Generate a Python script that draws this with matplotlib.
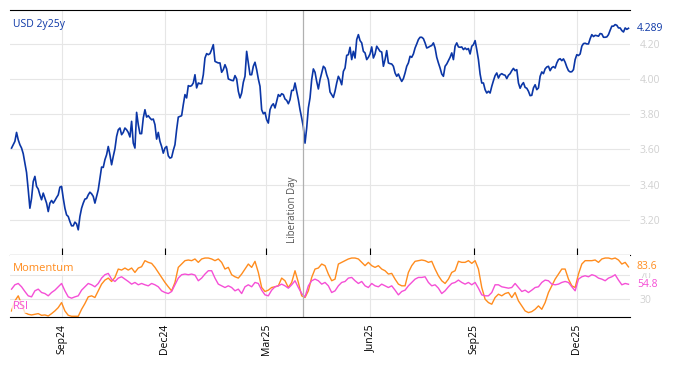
import numpy as np
import pandas as pd
import matplotlib
matplotlib.use("Agg")
import matplotlib.pyplot as plt
import matplotlib.dates as mdates

plt.rcParams['font.family'] = ['Open Sans', 'DejaVu Sans']

# USD 2y25y curve (approx. every 1.5 trading days)
usd = [
    3.608, 3.627, 3.646, 3.697, 3.655, 3.627, 3.608, 3.576, 3.523, 3.469,
    3.371, 3.266, 3.323, 3.418, 3.447, 3.390, 3.375, 3.342, 3.314, 3.352,
    3.323, 3.295, 3.247, 3.295, 3.310, 3.295, 3.310, 3.327, 3.342, 3.386,
    3.390, 3.323, 3.266, 3.228, 3.219, 3.190, 3.166, 3.166, 3.187, 3.177,
    3.143, 3.219, 3.266, 3.295, 3.318, 3.321, 3.342, 3.357, 3.348, 3.333,
    3.295, 3.333, 3.371, 3.437, 3.500, 3.498, 3.542, 3.570, 3.617, 3.570,
    3.513, 3.561, 3.604, 3.674, 3.712, 3.722, 3.684, 3.697, 3.722, 3.712,
    3.697, 3.671, 3.760, 3.636, 3.608, 3.811, 3.741, 3.690, 3.690, 3.779,
    3.826, 3.784, 3.792, 3.779, 3.769, 3.773, 3.741, 3.659, 3.697, 3.646,
    3.617, 3.579,
    3.608, 3.617, 3.564, 3.551, 3.555, 3.595, 3.627, 3.712, 3.784, 3.788,
    3.792, 3.855, 3.912, 3.893, 3.963, 3.959, 3.963, 3.978, 4.025, 3.950,
    3.978, 3.974, 3.974, 4.025, 4.120, 4.145, 4.139, 4.145, 4.168, 4.196,
    4.101, 4.096, 4.092, 4.092, 4.039, 4.054, 4.082, 4.058, 4.001, 3.997,
    3.993, 3.991, 4.020, 4.001, 3.931, 3.893, 3.921, 3.982, 4.016, 4.158,
    4.092, 4.025, 4.025, 4.073, 4.096, 4.054, 4.001, 3.959, 3.826, 3.803,
    3.811, 3.769, 3.750, 3.826, 3.849, 3.860, 3.836, 3.874, 3.912, 3.902,
    3.917, 3.912, 3.887, 3.879, 3.860, 3.883, 3.936, 3.936, 3.978, 3.931,
    3.883, 3.826, 3.779, 3.728, 3.636, 3.722, 3.836, 3.893, 3.997, 4.058,
    4.039, 3.987, 3.944,
    3.997, 4.035, 4.073, 4.063, 4.025, 3.997, 3.927, 3.912, 3.896, 3.931,
    3.978, 4.016, 3.997, 3.968, 4.044, 4.063, 4.135, 4.139, 4.181, 4.111,
    4.158, 4.120, 4.225, 4.253, 4.219, 4.206, 4.158, 4.149, 4.111, 4.124,
    4.143, 4.183, 4.120, 4.143, 4.187, 4.172, 4.158, 4.154, 4.073, 4.111,
    4.162, 4.092, 4.088, 4.086, 4.073, 4.035, 4.016, 4.029, 4.006, 3.987,
    4.003, 4.035, 4.073, 4.092, 4.130, 4.124, 4.143, 4.177, 4.200, 4.225,
    4.238, 4.238, 4.230, 4.206, 4.177, 4.181, 4.187, 4.191, 4.206, 4.177,
    4.124, 4.092, 4.063, 4.029, 4.016, 4.073, 4.086, 4.105, 4.124, 4.149,
    4.111, 4.187, 4.206, 4.183, 4.181, 4.183, 4.168, 4.177, 4.168, 4.174,
    4.143, 4.187, 4.196,
    4.219, 4.168, 4.111, 4.029, 3.978, 3.978, 3.940, 3.921, 3.931, 3.921,
    3.959, 3.991, 4.020, 4.035, 4.006, 4.025, 4.031, 4.025, 4.022, 4.003,
    4.022, 4.031, 4.048, 4.061, 4.048, 4.054, 3.978, 3.948, 3.968, 3.980,
    3.953, 3.948, 3.931, 3.906, 3.908, 3.950, 3.968, 3.940, 3.950, 4.016,
    4.041, 4.031, 4.058, 4.069, 4.073, 4.048, 4.065, 4.071, 4.063, 4.092,
    4.111, 4.116, 4.105, 4.115, 4.096, 4.069, 4.048, 4.041, 4.042, 4.054,
    4.111, 4.139, 4.134, 4.143, 4.187, 4.202, 4.204, 4.200, 4.200, 4.230,
    4.253, 4.242, 4.249, 4.247, 4.244, 4.259, 4.257, 4.238, 4.238, 4.240,
    4.253, 4.278, 4.301, 4.301, 4.310, 4.306, 4.291, 4.291, 4.276, 4.268,
    4.291, 4.283, 4.289,
]

rsi = [
    46.7, 53.9, 56.1, 50.6, 42.8, 35.6, 33.9, 43.9, 46.7, 41.1,
    39.4, 35.6, 41.1, 45.0, 50.6, 56.1, 43.9, 33.9, 31.7, 33.9,
    35.6, 45.0, 50.6, 56.1, 53.9, 50.6, 56.1, 65.0, 70.6, 72.8,
    63.3, 59.4, 65.0, 67.2, 63.3, 59.4, 55.0, 57.8, 53.9, 56.1,
    53.9, 52.2, 56.1, 53.9, 50.6, 43.9, 41.1, 39.4, 42.8, 53.9,
    65.0, 70.6, 71.7, 70.6, 71.7, 70.0, 60.6, 65.0, 71.7, 77.2,
    77.2, 65.0,
    55.0, 52.2, 49.4, 52.2, 49.4, 43.9, 46.7, 39.4, 50.6, 53.9,
    50.6, 57.8, 56.1, 45.0, 37.2, 35.6, 45.0, 50.6, 52.2, 55.0,
    52.2, 48.3, 53.9, 60.6, 49.4, 39.4, 33.9, 52.2, 60.6, 63.3,
    60.6, 55.0, 57.8, 52.2, 41.1, 43.9, 52.2, 57.8, 59.4, 65.0,
    66.1, 60.6, 56.1, 59.4, 52.2, 49.4, 56.1, 52.2, 50.6, 55.0,
    52.2, 49.4, 52.2, 45.0, 37.2, 42.8, 45.0, 52.2, 57.8, 63.3,
    66.1, 66.1,
    67.2, 57.8, 52.2, 53.9, 48.3, 39.4, 43.9, 50.6, 56.1, 57.8,
    61.7, 57.8, 55.0, 57.8, 53.9, 57.8, 48.3, 37.2, 35.6, 35.6,
    41.1, 53.9, 53.9, 50.6, 49.4, 48.3, 49.4, 56.1, 49.4, 42.8,
    45.0, 41.1, 45.0, 49.4, 50.6, 57.8, 61.7, 60.6, 55.0, 53.9,
    55.0, 57.8, 59.4, 57.8, 50.6, 43.9, 63.3, 67.2, 68.9, 67.2,
    70.6, 68.9, 65.0, 63.3, 60.6, 65.0, 67.2, 70.6, 61.7, 53.9,
    56.1, 54.8,
]

momentum = [
    10.6, 27.2, 35.6, 21.7, 7.8, 5.0, 3.9, 5.0, 6.1, 3.3,
    3.9, 2.2, 6.1, 10.6, 16.1, 24.4, 10.6, 3.3, 1.7, 1.7,
    1.7, 13.3, 22.8, 33.9, 35.6, 32.8, 43.9, 55.0, 61.7, 65.0,
    59.4, 66.1, 80.0, 78.3, 81.7, 78.3, 81.7, 74.4, 81.7, 83.9,
    93.9, 91.1, 89.4, 82.8, 74.4, 66.1, 57.8, 50.6, 43.9, 57.8,
    82.8, 88.3, 93.9, 95.0, 93.9, 96.7, 91.1, 96.7, 98.3, 98.3,
    96.7, 93.9,
    96.7, 91.1, 80.0, 82.8, 70.6, 67.2, 65.0, 71.7, 80.0, 88.3,
    82.8, 92.8, 74.4, 49.4, 42.8, 45.0, 49.4, 50.6, 52.2, 65.0,
    60.6, 49.4, 57.8, 77.2, 57.8, 35.6, 32.8, 43.9, 66.1, 80.0,
    81.7, 88.3, 85.6, 71.7, 60.6, 63.3, 88.3, 91.1, 93.9, 96.7,
    98.3, 98.3, 96.7, 91.1, 85.6, 91.1, 85.6, 82.8, 85.6, 80.0,
    77.2, 71.7, 72.8, 63.3, 55.0, 52.2, 52.2, 74.4, 85.6, 92.8,
    93.9, 95.0,
    93.9, 91.1, 92.8, 80.0, 68.9, 60.6, 56.1, 63.3, 74.4, 77.2,
    92.8, 91.1, 91.1, 93.9, 89.4, 93.9, 80.0, 49.4, 30.0, 24.4,
    21.7, 32.8, 38.3, 35.6, 39.4, 41.1, 32.8, 41.1, 27.2, 18.9,
    10.6, 7.8, 9.4, 13.3, 18.9, 13.3, 24.4, 41.1, 52.2, 63.3,
    71.7, 80.0, 80.0, 63.3, 52.2, 49.4, 71.7, 88.3, 93.9, 93.9,
    93.9, 95.0, 91.1, 96.7, 98.3, 98.3, 96.7, 98.3, 95.0, 88.3,
    91.1, 83.6,
]

start, end = "2024-07-18", "2026-01-16"
usd_dates = pd.date_range(start, end, periods=len(usd))
rsi_dates = pd.date_range(start, end, periods=len(rsi))
mom_dates = pd.date_range(start, end, periods=len(momentum))
lib_day = pd.Timestamp("2025-04-02")

blue = "#0b36a6"
orange = "#ff8c1e"
pink = "#f54fd6"
grid_c = "#e6e6e6"
tick_c = "#d0d0d0"

fig = plt.figure(figsize=(6.74, 3.66), dpi=100)
ax = fig.add_axes([10/674, 1-255/366, 620/674, 245/366])
ax2 = fig.add_axes([10/674, 1-317/366, 620/674, 62/366], sharex=ax)

ax.plot(usd_dates, usd, color=blue, lw=1.2)
ax2.plot(mom_dates, momentum, color=orange, lw=1.0)
ax2.plot(rsi_dates, rsi, color=pink, lw=1.0)

xmin = pd.Timestamp("2024-07-16 15:00")
xmax = pd.Timestamp("2026-01-17 08:00")
ax.set_xlim(xmin, xmax)
ax.set_ylim(3.0, 4.393)
ax2.set_ylim(0.5, 103.3)

for a in (ax, ax2):
    a.xaxis.set_major_locator(mdates.MonthLocator(bymonth=[3, 6, 9, 12]))
    a.xaxis.set_major_formatter(mdates.DateFormatter("%b%y"))
    a.grid(True, color=grid_c, lw=0.8)
    a.set_axisbelow(True)
    a.spines["left"].set_visible(False)
    a.spines["right"].set_visible(False)
    a.yaxis.tick_right()
    a.axvline(lib_day, color="#b0b0b0", lw=0.9)

ax.set_yticks([3.2, 3.4, 3.6, 3.8, 4.0, 4.2])
ax.yaxis.set_major_formatter(matplotlib.ticker.FormatStrFormatter("%.2f"))
ax.tick_params(axis="y", length=0, pad=7, labelsize=7.5, labelcolor=tick_c)
ax.tick_params(axis="x", direction="in", length=5, labelbottom=False)

ax2.set_yticks([30, 70])
ax2.tick_params(axis="y", length=0, pad=7, labelsize=7.5, labelcolor=tick_c)
ax2.tick_params(axis="x", length=0, pad=5, labelsize=7.5, labelrotation=90)
ax2.spines["top"].set_visible(False)

label_box = dict(facecolor="white", edgecolor="none", pad=0.5)
ytr = ax.get_yaxis_transform()
ax.text(1.011, usd[-1], f"{usd[-1]:.3f}", transform=ytr, color=blue,
        fontsize=7.5, va="center", ha="left", bbox=label_box)
ytr2 = ax2.get_yaxis_transform()
ax2.text(1.011, momentum[-1], f"{momentum[-1]:.1f}", transform=ytr2,
         color=orange, fontsize=7.5, va="center", ha="left", bbox=label_box)
ax2.text(1.011, rsi[-1], f"{rsi[-1]:.1f}", transform=ytr2,
         color=pink, fontsize=7.5, va="center", ha="left", bbox=label_box)

ax.text(0.005, 0.94, "USD 2y25y", transform=ax.transAxes, color=blue,
        fontsize=7.5, va="center", ha="left")
ax2.text(0.005, 0.78, "Momentum", transform=ax2.transAxes, color=orange,
         fontsize=8, va="center", ha="left",
         bbox=dict(facecolor="white", edgecolor="none", alpha=0.75, pad=1))
ax2.text(0.005, 0.17, "RSI", transform=ax2.transAxes, color=pink,
         fontsize=8, va="center", ha="left",
         bbox=dict(facecolor="white", edgecolor="none", alpha=0.75, pad=1))

ax.text(lib_day - pd.Timedelta(days=9), 3.07, "Liberation Day", rotation=90,
        color="#555555", fontsize=7, va="bottom", ha="center")

fig.savefig("out.png", dpi=100)
